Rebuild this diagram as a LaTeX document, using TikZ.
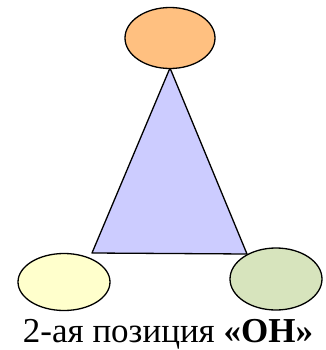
\documentclass[tikz,border=0pt]{standalone}
\usepackage{fontspec}
\setmainfont{Liberation Serif}
\usetikzlibrary{shapes.geometric}
\definecolor{posorange}{RGB}{255,192,128}
\definecolor{poslilac}{RGB}{204,204,255}
\definecolor{posyellow}{RGB}{255,255,204}
\definecolor{posgreen}{RGB}{215,228,189}

\begin{document}
\begin{tikzpicture}[x=1pt,y=-1pt,
  posnode/.style={ellipse,draw=black,line width=1.3pt,inner sep=0pt}]
  \useasboundingbox (0,0) rectangle (325,350);
  % triangle
  \coordinate (apex) at (170,68);
  \coordinate (cl) at (92,253);
  \coordinate (cr) at (247,254);
  \filldraw[fill=poslilac,draw=black,line width=1.3pt,line join=round] (apex) -- (cl) -- (cr) -- cycle;
  % ellipses
  \node[posnode,fill=posorange,minimum width=90pt,minimum height=61pt] (top) at (170,38) {};
  \node[posnode,fill=posyellow,minimum width=92pt,minimum height=57pt] (left) at (64,282) {};
  \node[posnode,fill=posgreen,minimum width=92pt,minimum height=62pt] (right) at (276,279) {};
  \node[anchor=base,font=\fontsize{35}{40}\selectfont,inner sep=0pt] (label) at (168,342) {2-ая позиция \textbf{«ОН»}};
\end{tikzpicture}
\end{document}
